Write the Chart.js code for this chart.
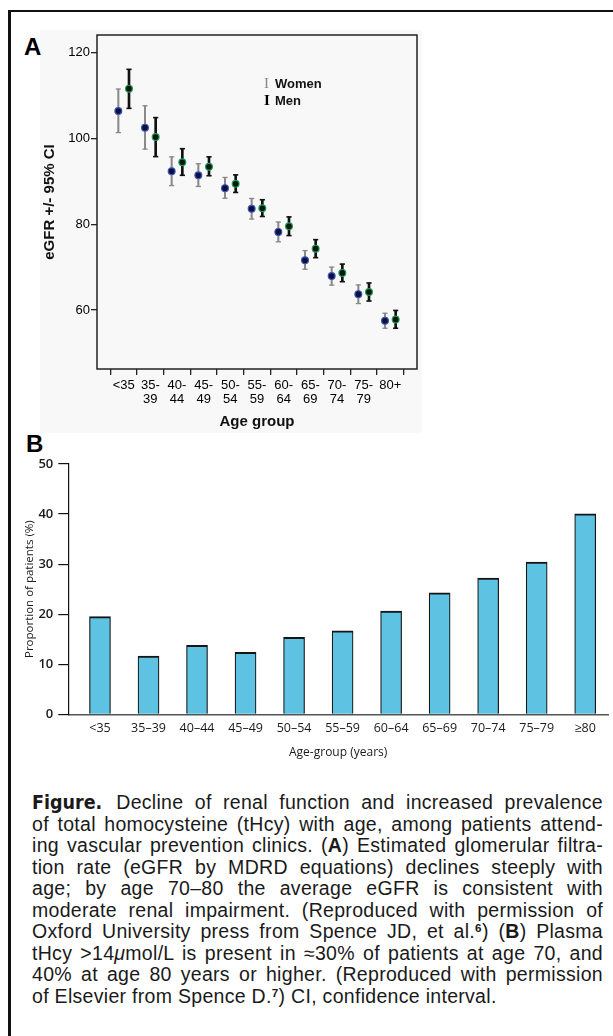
<!DOCTYPE html>
<html>
<head>
<meta charset="utf-8">
<script src="https://cdn.jsdelivr.net/npm/chart.js@4.4.1/dist/chart.umd.min.js"></script>
<style>
  html, body { margin:0; padding:0; background:#fff; overflow:hidden; }
  body { width:613px; height:1036px; position:relative; font-family:"Liberation Sans", Arial, sans-serif; }
  .frame { position:absolute; left:8px; top:10px; right:0; bottom:0; border-top:2.5px solid #111; border-left:3px solid #111; }
  .panelBg { position:absolute; left:40px; top:30px; width:382px; height:403px; background:#f8f8f8; }
  .letter { position:absolute; font-weight:bold; font-size:24px; color:#000; line-height:24px; }
  #chartA { position:absolute; left:0; top:0; }
  #chartB { position:absolute; left:0; top:440px; }
  .legend { position:absolute; left:264px; top:74.5px; font-size:13px; font-weight:bold; color:#111; line-height:17px; }
  .legend .eb { display:inline-block; width:11px; font-size:15px; font-family:"Liberation Serif", "DejaVu Serif", serif; font-weight:normal; }
  .caption { position:absolute; left:32px; top:792px; width:571px; font-size:19.5px; letter-spacing:0.3px; line-height:21.5px; color:#1a1a1a; }
  .caption div { text-align:justify; text-align-last:justify; white-space:nowrap; }
  .caption div.last { text-align-last:left; }
  .caption .fig { font-family:"Liberation Sans Narrow", "DejaVu Sans Condensed", sans-serif; font-weight:bold; letter-spacing:0; margin-right:14px; }
  .caption sup { font-size:0.6em; line-height:0; vertical-align:0.55em; font-weight:bold; }
</style>
</head>
<body>
<div class="panelBg"></div>
<div class="frame"></div>
<div class="letter" style="left:24px; top:35px;">A</div>
<div class="letter" style="left:26px; top:432px;">B</div>
<canvas id="chartA" width="613" height="440"></canvas>
<canvas id="chartB" width="613" height="330"></canvas>
<div class="legend">
  <div><span class="eb" style="color:#888;">I</span>Women</div>
  <div><span class="eb" style="color:#000; font-weight:bold;">I</span>Men</div>
</div>
<div class="caption">
  <div><span class="fig">Figure.</span>Decline of renal function and increased prevalence</div>
  <div>of total homocysteine (tHcy) with age, among patients attend-</div>
  <div>ing vascular prevention clinics. (<b>A</b>) Estimated glomerular filtra-</div>
  <div>tion rate (eGFR by MDRD equations) declines steeply with</div>
  <div>age; by age 70–80 the average eGFR is consistent with</div>
  <div>moderate renal impairment. (Reproduced with permission of</div>
  <div>Oxford University press from Spence JD, et al.<sup>6</sup>) (<b>B</b>) Plasma</div>
  <div>tHcy &gt;14<i>μ</i>mol/L is present in ≈30% of patients at age 70, and</div>
  <div>40% at age 80 years or higher. (Reproduced with permission</div>
  <div class="last">of Elsevier from Spence D.<sup>7</sup>) CI, confidence interval.</div>
</div>
<script>
// panel A: eGFR by age group, mean and 95% CI
const ageGroupsA = ['<35', '35-39', '40-44', '45-49', '50-54', '55-59', '60-64', '65-69', '70-74', '75-79', '80+'];
const womenMean = [106.4, 102.5, 92.35, 91.4, 88.4, 83.6, 78.2, 71.6, 67.9, 63.7, 57.5];
const womenLow  = [101.35, 97.5, 89.0, 88.8, 86.05, 81.2, 75.9, 69.5, 65.8, 61.5, 55.75];
const womenHigh = [111.5, 107.6, 95.7, 94.1, 90.9, 86.0, 80.5, 73.85, 70.0, 65.85, 59.25];
const menMean = [111.6, 100.3, 94.45, 93.4, 89.4, 83.7, 79.5, 74.3, 68.65, 64.2, 57.8];
const menLow  = [107.0, 95.75, 91.4, 91.3, 87.4, 81.8, 77.35, 72.2, 66.6, 62.1, 55.75];
const menHigh = [116.1, 104.85, 97.6, 95.7, 91.5, 85.7, 81.7, 76.4, 70.7, 66.3, 59.9];
const yTicksA = [60, 80, 100, 120];

// panel B: proportion of patients with high tHcy
const ageGroupsB = ['<35', '35–39', '40–44', '45–49', '50–54', '55–59', '60–64', '65–69', '70–74', '75–79', '≥80'];
const proportion = [19.5, 11.65, 13.8, 12.4, 15.4, 16.65, 20.6, 24.25, 27.2, 30.4, 40.05];

const sansA = '"Liberation Sans", Arial, sans-serif';
const sansB = '"Open Sans", "Liberation Sans", sans-serif';
const pairOffset = 0.2; // women left, men right of each tick

// draw the closed box round the plot area
const plotBox = {
  id: 'plotBox',
  afterDatasetsDraw(chart) {
    const { ctx, chartArea: a } = chart;
    ctx.save();
    ctx.strokeStyle = '#222';
    ctx.lineWidth = 1.5;
    ctx.strokeRect(a.left, a.top, a.right - a.left, a.bottom - a.top);
    ctx.restore();
  }
};

function pts(vals, side) {
  return vals.map((v, i) => ({ x: i + 1 + side * pairOffset, y: v }));
}
function ranges(lo, hi, side) {
  return lo.map((v, i) => ({ x: i + 1 + side * pairOffset, y: [v, hi[i]] }));
}
function splitLabel(s) {
  const k = s.indexOf('-');
  return k < 0 ? s : [s.slice(0, k + 1), s.slice(k + 1)];
}

new Chart(document.getElementById('chartA'), {
  type: 'scatter',
  data: {
    datasets: [
      { label: 'Women', data: pts(womenMean, -1), pointRadius: 3.4, backgroundColor: '#0b1040', borderColor: '#3b55b0', borderWidth: 1.2, order: 0 },
      { label: 'Men', data: pts(menMean, 1), pointRadius: 3.4, backgroundColor: '#07160d', borderColor: '#1e9a55', borderWidth: 1.2, order: 0 },
      { type: 'bar', label: 'Women CI', data: ranges(womenLow, womenHigh, -1), backgroundColor: '#8a8a8a', barThickness: 1.4, grouped: false, order: 3 },
      { type: 'bar', label: 'Men CI', data: ranges(menLow, menHigh, 1), backgroundColor: '#111', barThickness: 2, grouped: false, order: 3 },
      { label: 'Women caps', data: pts(womenLow, -1).concat(pts(womenHigh, -1)), pointStyle: 'line', pointRadius: 2.6, borderColor: '#8a8a8a', borderWidth: 1.3, order: 2 },
      { label: 'Men caps', data: pts(menLow, 1).concat(pts(menHigh, 1)), pointStyle: 'line', pointRadius: 2.6, borderColor: '#111', borderWidth: 1.6, order: 2 }
    ]
  },
  options: {
    responsive: false,
    animation: false,
    layout: { padding: { left: 0, top: 35, right: 196, bottom: 0 } },
    plugins: { legend: { display: false }, tooltip: { enabled: false } },
    scales: {
      x: {
        type: 'linear', min: 0, max: 12, bounds: 'data', offset: false,
        afterBuildTicks: s => { s.ticks = ageGroupsA.map((_, i) => ({ value: i + 1 })); },
        afterFit: s => { s.height = 71; },
        ticks: {
          autoSkip: false, maxRotation: 0, padding: 4, color: '#000',
          font: { family: sansA, size: 13, lineHeight: 1.03 },
          callback: v => splitLabel(ageGroupsA[v - 1])
        },
        grid: { drawOnChartArea: false, drawTicks: true, tickLength: 6, color: '#222', lineWidth: 1.3 },
        border: { display: false },
        title: { display: true, text: 'Age group', color: '#111', font: { family: sansA, size: 15, weight: 'bold' }, padding: { top: 0, bottom: 9 } }
      },
      y: {
        type: 'linear', min: 46.25, max: 124.1, bounds: 'data',
        afterBuildTicks: s => { s.ticks = yTicksA.map(v => ({ value: v })); },
        afterFit: s => { s.width = 97; },
        ticks: { padding: 1, color: '#000', font: { family: sansA, size: 13 } },
        grid: { drawOnChartArea: false, drawTicks: true, tickLength: 6, color: '#222', lineWidth: 1.3 },
        border: { display: false },
        title: { display: true, text: 'eGFR +/- 95% CI', color: '#111', font: { family: sansA, size: 15, weight: 'bold' }, padding: { top: 41, bottom: 0 } }
      }
    }
  },
  plugins: [plotBox]
});

new Chart(document.getElementById('chartB'), {
  type: 'bar',
  data: {
    datasets: [{
      label: 'Proportion of patients (%)',
      data: proportion.map((v, i) => ({ x: i, y: v })),
      backgroundColor: '#5ec2e2',
      borderColor: '#151515',
      borderWidth: { top: 2, left: 1.2, right: 1.2, bottom: 0 },
      borderSkipped: false,
      barThickness: 21
    }]
  },
  options: {
    responsive: false,
    animation: false,
    layout: { padding: { left: 0, top: 24, right: 5, bottom: 0 } },
    plugins: { legend: { display: false }, tooltip: { enabled: false } },
    scales: {
      x: {
        type: 'linear', min: -0.653, max: 10.47, bounds: 'data', offset: false,
        afterBuildTicks: s => { s.ticks = ageGroupsB.map((_, i) => ({ value: i })); },
        afterFit: s => { s.height = 55.7; },
        ticks: {
          autoSkip: false, maxRotation: 0, padding: 6.3, color: '#1a1a1a',
          font: { family: sansB, size: 12.5 },
          callback: v => ageGroupsB[v]
        },
        grid: { display: false, drawTicks: false },
        border: { display: true, color: '#555', width: 1.5 },
        title: { display: true, text: 'Age-group (years)', color: '#1a1a1a', font: { family: sansB, size: 12 }, padding: { top: 0, bottom: 9.8 } }
      },
      y: {
        type: 'linear', min: 0, max: 50, bounds: 'data',
        afterFit: s => { s.width = 68.3; },
        ticks: { stepSize: 10, padding: 5, color: '#1a1a1a', font: { family: sansB, size: 13, weight: '600' } },
        grid: { drawOnChartArea: false, drawTicks: true, tickLength: 10, color: '#111', lineWidth: 1.2 },
        border: { display: true, color: '#111', width: 1.2 },
        title: { display: true, text: 'Proportion of patients (%)', color: '#1a1a1a', font: { family: sansB, size: 11.5 }, padding: { top: 22.4, bottom: 0 } }
      }
    }
  }
});
</script>
</body>
</html>
